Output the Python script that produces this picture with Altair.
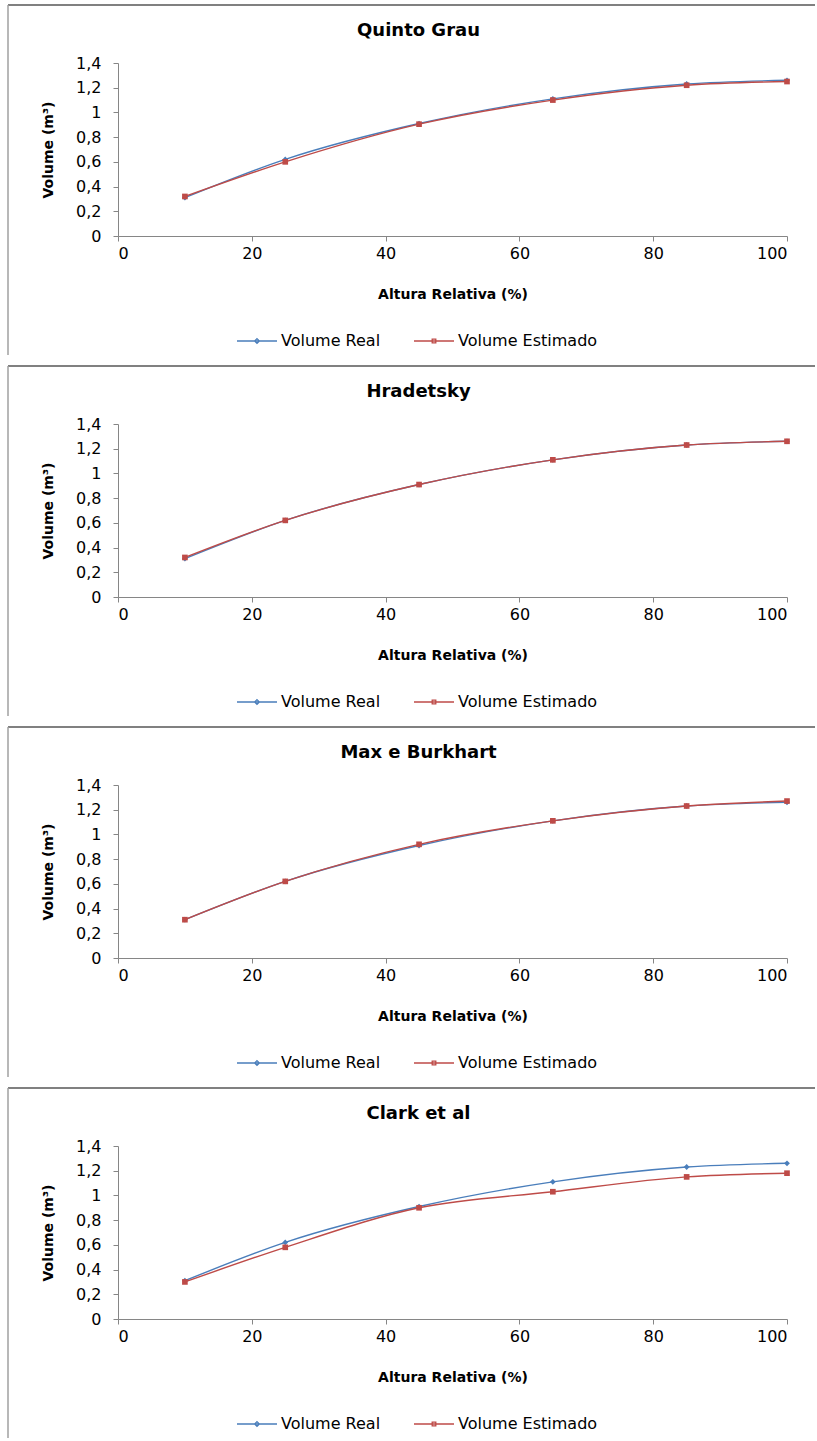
import altair as alt
import pandas as pd

# ---- data ----
altura = [10, 25, 45, 65, 85, 100]
volume_real = [0.31, 0.62, 0.91, 1.11, 1.23, 1.26]

titulos = ["Quinto Grau", "Hradetsky", "Max e Burkhart", "Clark et al"]
estimado_quinto = [0.32, 0.60, 0.905, 1.10, 1.22, 1.25]
estimado_hradetsky = [0.32, 0.62, 0.91, 1.11, 1.23, 1.26]
estimado_max = [0.31, 0.62, 0.92, 1.11, 1.23, 1.27]
estimado_clark = [0.30, 0.58, 0.90, 1.03, 1.15, 1.18]
estimados = [estimado_quinto, estimado_hradetsky, estimado_max, estimado_clark]

series = ["Volume Real", "Volume Estimado"]
cores = ["#4A7EBB", "#BE4B48"]
x_ticks = [0, 20, 40, 60, 80, 100]
y_ticks = [0, 0.2, 0.4, 0.6, 0.8, 1.0, 1.2, 1.4]

FONT = "DejaVu Sans"
W, H = 669, 173

path_real = "M-1,0L1,0M0,-0.12L0.12,0L0,0.12L-0.12,0Z"
path_est = "M-1,0L1,0M-0.09,-0.09H0.09V0.09H-0.09Z"


def painel(titulo, est):
    df = pd.DataFrame({
        "Altura": altura * 2,
        "Volume": volume_real + est,
        "Serie": [series[0]] * len(altura) + [series[1]] * len(altura),
    })
    base = alt.Chart(df)
    x = alt.X("Altura:Q", scale=alt.Scale(domain=[0, 100], nice=False),
              axis=alt.Axis(values=x_ticks, title="Altura Relativa (%)",
                            labelPadding=4, titlePadding=26, labelOverlap=False))
    y = alt.Y("Volume:Q", scale=alt.Scale(domain=[0, 1.4], nice=False),
              axis=alt.Axis(values=y_ticks, title="Volume (m³)",
                            labelExpr="replace(format(datum.value, '.1~f'), '.', ',')",
                            labelOverlap=False, labelFlush=False,
                            labelPadding=12, titlePadding=20))

    camadas = []
    marcas = ["diamond", "square"]
    tamanhos = [34, 32]
    for s, c, m, t in zip(series, cores, marcas, tamanhos):
        sub = base.transform_filter(alt.datum.Serie == s)
        camadas.append(sub.mark_line(interpolate="monotone", strokeWidth=1.4, color=c).encode(
            x=x, y=y, order="Altura:Q"))
        camadas.append(sub.mark_point(shape=m, filled=True, size=t, opacity=1, color=c).encode(
            x=x, y=y))

    leg = alt.Legend(title=None, orient="none", direction="horizontal",
                     legendX=118, legendY=257, symbolSize=1600, symbolStrokeWidth=1.3,
                     labelOffset=3, columnPadding=30,
                     labelFontSize=16, labelFont=FONT, labelColor="#000000")
    legenda = base.transform_filter("false").mark_point(filled=False, opacity=1).encode(
        x=x, y=y,
        color=alt.Color("Serie:N", scale=alt.Scale(domain=series, range=cores), legend=leg),
        shape=alt.Shape("Serie:N", scale=alt.Scale(domain=series, range=[path_real, path_est]), legend=leg),
    )

    moldura = pd.DataFrame({"k": [0]})
    borda_h = alt.Chart(moldura).mark_rule(color="#808080", strokeWidth=2).encode(
        x=alt.value(-110), x2=alt.value(697), y=alt.value(-58))
    borda_v = alt.Chart(moldura).mark_rule(color="#A0A0A0", strokeWidth=1.5).encode(
        x=alt.value(-110), y=alt.value(-58), y2=alt.value(292))

    return alt.layer(borda_h, borda_v, *camadas, legenda).properties(
        width=W, height=H,
        title=alt.TitleParams(titulo, fontSize=18, font=FONT, fontWeight="bold",
                              anchor="middle", frame="group", dx=-34, offset=-36,
                              color="#000000"),
    )


paineis = [painel(t, e) for t, e in zip(titulos, estimados)]

chart = alt.vconcat(*paineis, spacing=188, bounds="flush").resolve_scale(
    color="independent", shape="independent").resolve_legend(
    color="independent", shape="independent").properties(
    padding={"left": 7, "top": 4, "right": 0, "bottom": 0},
    background="#FFFFFF",
).configure_view(stroke=None).configure_axis(
    grid=False, domainColor="#868686", tickColor="#868686", tickSize=5,
    labelFont=FONT, labelFontSize=16, labelColor="#000000", labelOverlap=False,
    titleFont=FONT, titleFontSize=14, titleFontWeight="bold", titleColor="#000000",
)

chart.save("out.html", embed_options={"renderer": "svg", "actions": False})
